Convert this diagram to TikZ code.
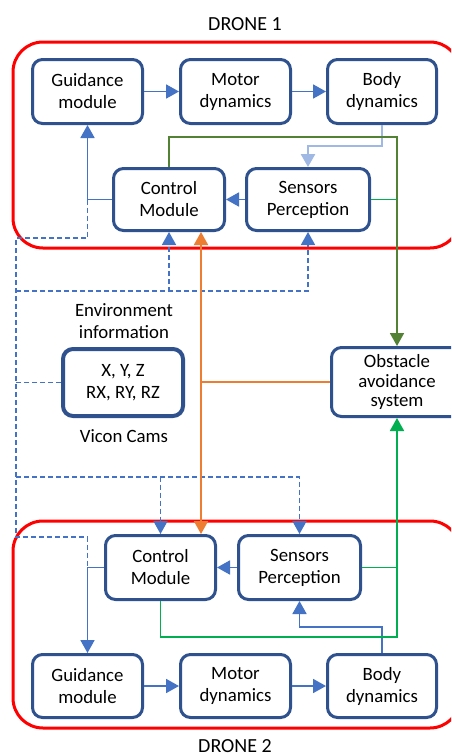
\documentclass[tikz,border=0pt]{standalone}
\usepackage{fontspec}
\setmainfont{Carlito}
\usetikzlibrary{arrows.meta,calc}
\definecolor{boxb}{RGB}{47,82,143}
\definecolor{arb}{RGB}{68,114,196}
\definecolor{lightarb}{RGB}{160,185,228}
\definecolor{orgc}{RGB}{237,125,49}
\definecolor{dgreen}{RGB}{84,130,53}
\definecolor{bgreen}{RGB}{0,176,80}
\definecolor{redc}{RGB}{255,0,0}
\begin{document}
\begin{tikzpicture}[x=1pt,y=-1pt,
  blk/.style={draw=boxb, line width=3pt, rounded corners=10pt, fill=white,
    align=center, inner sep=0pt, font=\fontsize{18.8}{22}\selectfont},
  frame/.style={draw=redc, line width=3pt, rounded corners=30pt},
  tipa/.style={-{Triangle[width=14pt,length=13pt]}},
  conn/.style={draw=arb, line width=1.8pt},
  dsh/.style={draw=arb, line width=1.7pt, dash pattern=on 5pt off 3pt},
  lbl/.style={inner sep=0pt, font=\fontsize{18.8}{22}\selectfont, align=center},
  ttl/.style={inner sep=0pt, font=\fontsize{20}{24}\selectfont},
  orgl/.style={draw=orgc, line width=1.8pt},
  dgl/.style={draw=dgreen, line width=1.8pt},
  bgl/.style={draw=bgreen, line width=1.8pt}]
\useasboundingbox (0,0) rectangle (451,756);
\clip (0,0) rectangle (451,756);
\fill[white] (0,0) rectangle (451,756);

% frames
\node[frame, minimum width=447pt, minimum height=206pt] (fr1) at (236.5,145) {};
\node[frame, minimum width=447pt, minimum height=207pt] (fr2) at (236.5,624.5) {};
\node[ttl, anchor=base] (t1) at (245,30) {DRONE 1};
\node[ttl, anchor=base] (t2) at (235,752) {DRONE 2};

% drone 1 blocks
\node[blk, minimum width=110pt, minimum height=64pt] (g1) at (87.5,91.5) {Guidance\\module};
\node[blk, minimum width=110pt, minimum height=64pt] (m1) at (235.5,91.5) {Motor\\dynamics};
\node[blk, minimum width=109pt, minimum height=64pt] (b1) at (382,91.5) {Body\\dynamics};
\node[blk, minimum width=111pt, minimum height=62pt] (c1) at (169,199.5) {Control\\Module};
\node[blk, minimum width=123pt, minimum height=62pt] (s1) at (308,199.5) {Sensors\\Perception};

% drone 2 blocks
\node[blk, minimum width=110pt, minimum height=64pt] (c2) at (160.5,567.5) {Control\\Module};
\node[blk, minimum width=122pt, minimum height=64pt] (s2) at (299.5,567.5) {Sensors\\Perception};
\node[blk, minimum width=110pt, minimum height=63pt] (g2) at (87.5,686) {Guidance\\module};
\node[blk, minimum width=110pt, minimum height=63pt] (m2) at (235.5,686) {Motor\\dynamics};
\node[blk, minimum width=109pt, minimum height=63pt] (b2) at (382,686) {Body\\dynamics};

% middle
\node[blk, line width=4pt, minimum width=120pt, minimum height=67pt] (vic) at (123,382.5) {X, Y, Z\\RX, RY, RZ};
\node[blk, font=\fontsize{18.8}{19.5}\selectfont, minimum width=131pt, minimum height=69pt] (obs) at (397,382) {Obstacle\\avoidance\\system};
\node[lbl] (env) at (124,321) {Environment\\information};
\node[lbl, anchor=base] (vc) at (124,442) {Vicon Cams};

% helper coordinates
\coordinate (OX) at (201,0);
\coordinate (GL1) at (0,137);
\coordinate (GL2) at (0,637);
\coordinate (L1) at (16,238);
\coordinate (L2) at (16,537);
\coordinate (T1) at (16,291);
\coordinate (B1) at (16,477);
\coordinate (j1) at (g1.south |- c1.west);
\coordinate (j2) at (g2.north |- c2.west);

% drone 1 connectors
\draw[conn,tipa] (g1.east) -- (m1.west);
\draw[conn,tipa] (m1.east) -- (b1.west);
\draw[conn,tipa] (s1.west) -- (c1.east);
\draw[conn,tipa] (c1.west) -| (g1.south);
\draw[draw=lightarb, line width=2.6pt, -{Triangle[width=14pt,length=13pt]}] (b1.south) -- ++(0,21) -| (s1.north);

% drone 2 connectors
\draw[conn,tipa] (g2.east) -- (m2.west);
\draw[conn,tipa] (m2.east) -- (b2.west);
\draw[conn,tipa] (s2.west) -- (c2.east);
\draw[conn,tipa] (c2.west) -| (g2.north);
\draw[conn,tipa] (b2.north) -- ++(0,-26) -| (s2.south);

% dashed environment links
\draw[dsh] (j1) |- (L1) -- (L2) -| (j2);
\draw[dsh,tipa] (T1) -| (c1.south);
\draw[dsh,tipa] (T1) -| (s1.south);
\draw[dsh] (vic.west) -- (vic.west -| L1);
\draw[dsh,tipa] (B1) -| (c2.north);
\draw[dsh,tipa] (B1) -| (s2.north);

% orange
\draw[orgl,{Triangle[width=14pt,length=13pt]}-{Triangle[width=14pt,length=13pt]}] (c1.south -| OX) -- (c2.north -| OX);
\draw[orgl] (obs.west) -- (obs.west -| OX);

% green
\draw[dgl,tipa] (c1.north) |- (obs.north |- GL1) -- (obs.north);
\draw[bgl] (s1.east) -- (s1.east -| obs.north);
\draw[bgl,tipa] (c2.south) |- (obs.south |- GL2) -- (obs.south);
\draw[bgl] (s2.east) -- (s2.east -| obs.south);
\end{tikzpicture}
\end{document}
